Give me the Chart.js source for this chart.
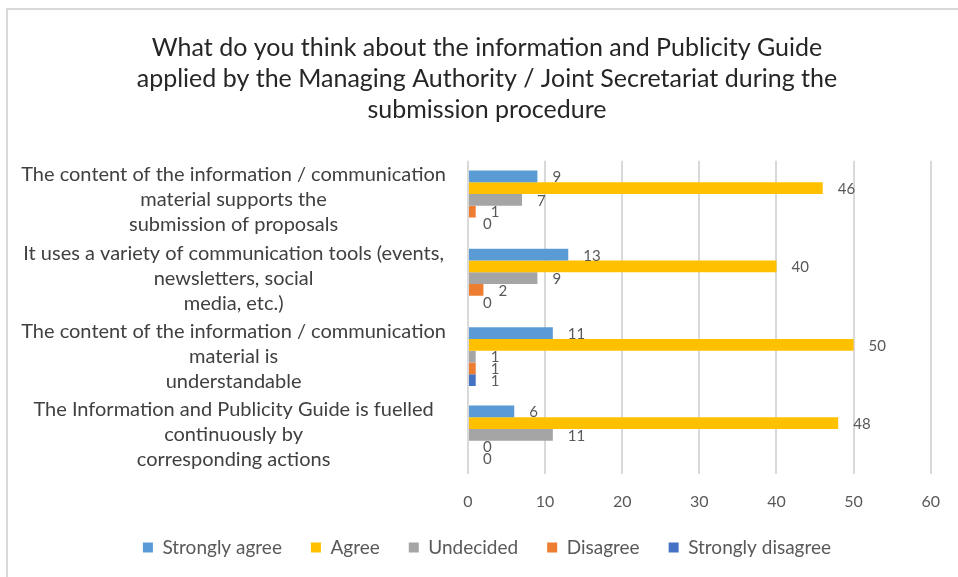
<!DOCTYPE html>
<html>
<head>
<meta charset="utf-8">
<title>Information and Publicity Guide survey</title>
<script src="https://cdn.jsdelivr.net/npm/chart.js@4.4.1/dist/chart.umd.min.js"></script>
<style>
  html, body { margin: 0; padding: 0; background: #fff; }
  #wrap { position: relative; width: 958px; height: 577px; overflow: hidden; }
  #frame { position: absolute; left: 6px; top: 8px; right: -10px; bottom: -10px;
           border-left: 2px solid #d9d9d9; border-top: 2px solid #d9d9d9; }
  canvas { position: absolute; left: 0; top: 0; }
</style>
</head>
<body>
<div id="wrap">
  <div id="frame"></div>
  <canvas id="guideChart" width="958" height="577"></canvas>
</div>
<script>
var chartTitle = [
  'What do you think about the information and Publicity Guide',
  'applied by the Managing Authority / Joint Secretariat during the',
  'submission procedure'
];

// survey statements, wrapped the way they appear on the axis
var statements = [
  ['The content of the information / communication', 'material supports the', 'submission of proposals'],
  ['It uses a variety of communication tools (events,', 'newsletters, social', 'media, etc.)'],
  ['The content of the information / communication', 'material is', 'understandable'],
  ['The Information and Publicity Guide is fuelled', 'continuously by', 'corresponding actions']
];

var stronglyAgree    = [9, 13, 11, 6];
var agree            = [46, 40, 50, 48];
var undecided        = [7, 9, 1, 11];
var disagree         = [1, 2, 1, 0];
var stronglyDisagree = [0, 0, 1, 0];

var xTicks = [0, 10, 20, 30, 40, 50, 60];

var FONT = 'Lato';

// numbers written just past the end of each bar
var valueLabels = {
  id: 'valueLabels',
  afterDatasetsDraw: function(chart) {
    var ctx = chart.ctx;
    ctx.save();
    ctx.font = '15px ' + FONT;
    ctx.fillStyle = '#595959';
    ctx.textAlign = 'left';
    ctx.textBaseline = 'middle';
    chart.data.datasets.forEach(function(ds, i) {
      var meta = chart.getDatasetMeta(i);
      meta.data.forEach(function(bar, j) {
        ctx.fillText(String(ds.data[j]), bar.x + 15, bar.y + 1);
      });
    });
    ctx.restore();
  }
};

function series(label, data, color) {
  return {
    label: label,
    data: data,
    backgroundColor: color,
    borderWidth: 0,
    categoryPercentage: 0.75,
    barPercentage: 1.0
  };
}

var ctx = document.getElementById('guideChart');
var myChart = new Chart(ctx, {
  type: 'bar',
  data: {
    labels: statements,
    datasets: [
      series('Strongly agree', stronglyAgree, '#5B9BD5'),
      series('Agree', agree, '#FFC000'),
      series('Undecided', undecided, '#A5A5A5'),
      series('Disagree', disagree, '#ED7D31'),
      series('Strongly disagree', stronglyDisagree, '#4472C4')
    ]
  },
  plugins: [valueLabels],
  options: {
    indexAxis: 'y',
    responsive: false,
    animation: false,
    layout: { padding: { left: 42, right: 26, top: 0, bottom: 10 } },
    scales: {
      x: {
        min: xTicks[0],
        max: xTicks[xTicks.length - 1],
        ticks: {
          stepSize: xTicks[1] - xTicks[0],
          padding: 18,
          color: '#595959',
          font: { family: FONT, size: 16 }
        },
        grid: { color: '#d9d9d9', lineWidth: 2, drawTicks: false },
        border: { display: false },
        afterFit: function(scale) { scale.height = 35; }
      },
      y: {
        ticks: {
          crossAlign: 'center',
          padding: 22,
          color: '#404040',
          font: { family: FONT, size: 20, lineHeight: 1.25 }
        },
        grid: { display: false, drawTicks: false },
        border: { display: false },
        afterFit: function(scale) {
          scale.width = 426;
          // long statements run into the left padding, so don't clip them
          scale._computeLabelArea = function() { return undefined; };
        }
      }
    },
    plugins: {
      title: {
        display: true,
        text: chartTitle,
        color: '#262626',
        font: { family: FONT, size: 25, weight: 'normal', lineHeight: 1.25 },
        padding: { top: 32, bottom: 35 }
      },
      legend: {
        position: 'bottom',
        labels: {
          boxWidth: 10,
          boxHeight: 10,
          padding: 29,
          color: '#595959',
          font: { family: FONT, size: 19 }
        }
      },
      tooltip: { enabled: false }
    }
  }
});
</script>
</body>
</html>
